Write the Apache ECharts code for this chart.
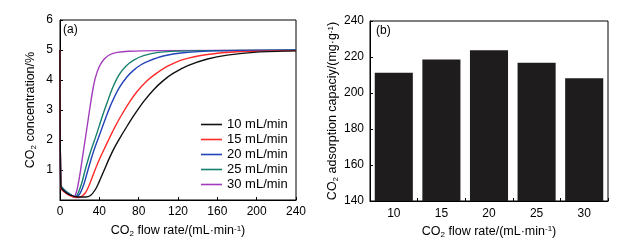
<!DOCTYPE html>
<html>
<head>
<meta charset="utf-8">
<script src="https://cdn.jsdelivr.net/npm/echarts@6/dist/echarts.min.js"></script>
<style>
  html, body { margin: 0; padding: 0; background: #fff; }
  #chart { width: 628px; height: 244px; }
</style>
</head>
<body>
<div id="chart"></div>
<script>
// breakthrough curves, [flow, concentration]
const flow10 = [[0,5],[0.8,0.45],[4,0.3],[10,0.17],[18,0.1],[26,0.1],[31,0.15],[36,0.35],[40,0.62],[45,1.0],[50,1.38],[55,1.72],[61,2.07],[68,2.45],[76,2.86],[85,3.28],[95,3.67],[105,3.98],[115,4.22],[130,4.48],[150,4.7],[170,4.83],[200,4.93],[240,4.97]];
const flow15 = [[0,5],[0.8,0.4],[4,0.28],[10,0.15],[17,0.08],[22,0.12],[26,0.25],[30,0.52],[35,0.95],[40,1.35],[45,1.7],[49,1.98],[55,2.38],[62,2.8],[70,3.23],[78,3.6],[88,3.96],[98,4.22],[110,4.47],[125,4.68],[150,4.85],[180,4.94],[240,4.98]];
const flow20 = [[0,5],[0.8,0.45],[4,0.32],[10,0.18],[16,0.1],[20,0.2],[24,0.5],[28,0.95],[32,1.4],[36,1.8],[40,2.15],[44,2.52],[48,2.87],[53,3.27],[60,3.73],[68,4.1],[75,4.33],[82,4.5],[90,4.63],[105,4.8],[125,4.91],[160,4.97],[240,4.99]];
const flow25 = [[0,5],[0.8,0.5],[4,0.35],[10,0.2],[15,0.1],[18,0.2],[22,0.55],[26,1.05],[30,1.5],[33,1.8],[36,2.08],[40,2.48],[44,2.88],[48,3.25],[53,3.7],[60,4.17],[67,4.46],[75,4.66],[85,4.81],[100,4.92],[130,4.97],[240,5.0]];
const flow30 = [[0,5],[0.8,0.5],[4,0.35],[9,0.2],[14,0.1],[17,0.3],[20,0.8],[23,1.45],[26,2.1],[28.5,2.65],[31,3.2],[33.5,3.7],[36,4.08],[40,4.45],[45,4.7],[51,4.85],[58,4.92],[70,4.96],[100,4.98],[240,4.99]];
const curveNames = ['10 mL/min', '15 mL/min', '20 mL/min', '25 mL/min', '30 mL/min'];
const curveColors = ['#111111', '#ff2a2a', '#2343b8', '#17806e', '#a23cbc'];

// adsorption capacity per flow rate
const rateCats = ['10', '15', '20', '25', '30'];
const capacity = [211.3, 218.6, 223.7, 216.8, 208.2];

const font = 'Liberation Sans, Arial, sans-serif';
const rich = {
  a: { fontSize: 12.5, fontFamily: font, color: '#000' },
  s: { fontSize: 8, fontFamily: font, color: '#000', padding: [6, 0, 0, 0] },
  p: { fontSize: 8, fontFamily: font, color: '#000', padding: [0, 0, 5, 0] }
};
const flowName = '{a|CO}{s|2}{a| flow rate/(mL·min}{p|-1}{a|)}';

const chart = echarts.init(document.getElementById('chart'), null, { renderer: 'canvas' });

const axisBase = {
  axisLine: { show: true, lineStyle: { color: '#000', width: 1 } },
  axisTick: { show: true, inside: true, length: 3, lineStyle: { color: '#000' } },
  axisLabel: { color: '#000', fontSize: 12, fontFamily: font },
  splitLine: { show: false }
};

const lineSeries = [flow10, flow15, flow20, flow25, flow30].map((d, i) => ({
  name: curveNames[i],
  type: 'line',
  xAxisIndex: 0,
  yAxisIndex: 0,
  data: d,
  symbol: 'none',
  smooth: 0.3,
  lineStyle: { color: curveColors[i], width: 1.4 },
  itemStyle: { color: curveColors[i] },
  z: 10 - i
}));

chart.setOption({
  animation: false,
  backgroundColor: '#fff',
  grid: [
    { left: 60, top: 20, width: 236, height: 180, show: true, borderColor: '#000', borderWidth: 1 },
    { left: 370, top: 21, width: 238, height: 180, show: true, borderColor: '#000', borderWidth: 1 }
  ],
  xAxis: [
    {
      ...axisBase,
      gridIndex: 0,
      type: 'value',
      min: 0, max: 240, interval: 40,
      axisLabel: { ...axisBase.axisLabel, margin: 6 },
      name: flowName,
      nameLocation: 'middle',
      nameGap: 24,
      nameTextStyle: { rich }
    },
    {
      ...axisBase,
      gridIndex: 1,
      type: 'category',
      data: rateCats,
      axisLabel: { ...axisBase.axisLabel, margin: 7 },
      name: flowName,
      nameLocation: 'middle',
      nameGap: 21,
      nameTextStyle: { rich }
    }
  ],
  yAxis: [
    {
      ...axisBase,
      gridIndex: 0,
      type: 'value',
      min: 0, max: 6, interval: 1,
      axisLabel: { ...axisBase.axisLabel, margin: 7, formatter: v => v === 0 ? '' : v },
      name: '{a|CO}{s|2}{a| concentration/%}',
      nameLocation: 'middle',
      nameGap: 22,
      nameTextStyle: { rich }
    },
    {
      ...axisBase,
      gridIndex: 1,
      type: 'value',
      min: 140, max: 240, interval: 20,
      axisLabel: { ...axisBase.axisLabel, margin: 6 },
      name: '{a|CO}{s|2}{a| adsorption capaciy/(mg·g}{p|-1}{a|)}',
      nameLocation: 'middle',
      nameGap: 30,
      nameTextStyle: { rich }
    }
  ],
  legend: {
    orient: 'vertical',
    left: 196,
    top: 113,
    icon: 'rect',
    itemWidth: 21,
    itemHeight: 1.6,
    itemGap: 2,
    data: curveNames,
    textStyle: { fontSize: 13, fontFamily: font, color: '#000', lineHeight: 13 }
  },
  graphic: [
    { type: 'text', left: 63, top: 24, style: { text: '(a)', fontSize: 12, fontFamily: font, fill: '#000' } },
    { type: 'text', left: 376, top: 25, style: { text: '(b)', fontSize: 12, fontFamily: font, fill: '#000' } }
  ],
  series: [
    ...lineSeries,
    {
      type: 'bar',
      xAxisIndex: 1,
      yAxisIndex: 1,
      data: capacity,
      barCategoryGap: '20%',
      itemStyle: { color: '#1e1c1d' }
    }
  ]
});
</script>
</body>
</html>
